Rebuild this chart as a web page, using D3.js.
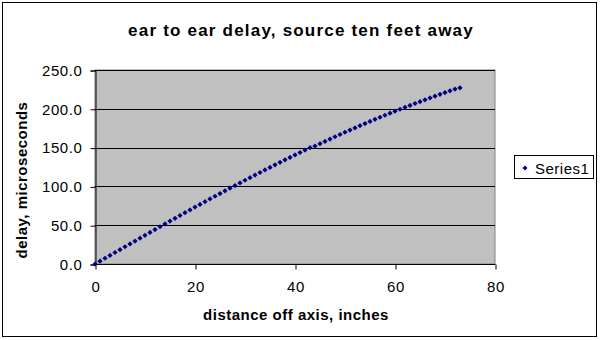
<!DOCTYPE html>
<html><head><meta charset="utf-8">
<script src="https://cdn.jsdelivr.net/npm/d3@7"></script>
<style>body{margin:0;background:#fff}svg{display:block}text{font-family:Arial,"Liberation Sans",sans-serif}</style>
</head><body>
<svg id="c" width="600" height="340"></svg>
<script>
const title = "ear to ear delay, source ten feet away";
const xTitle = "distance off axis, inches";
const yTitle = "delay, microseconds";
const seriesName = "Series1";
const distance = [0,1,2,3,4,5,6,7,8,9,10,11,12,13,14,15,16,17,18,19,20,21,22,23,24,25,26,27,28,29,30,31,32,33,34,35,36,37,38,39,40,41,42,43,44,45,46,47,48,49,50,51,52,53,54,55,56,57,58,59,60,61,62,63,64,65,66,67,68,69,70,71,72,73];
const delay = [0,3.7,7.4,11.1,14.8,18.5,22.2,25.9,29.6,33.3,37.0,40.7,44.4,48.0,51.7,55.3,58.9,62.5,66.1,69.7,73.3,76.8,80.3,83.8,87.3,90.8,94.3,97.7,101.1,104.5,107.9,111.3,114.6,117.9,121.2,124.5,127.8,131.0,134.2,137.4,140.6,143.7,146.8,149.9,152.0,155.0,158.0,161.0,164.0,166.9,169.8,172.6,175.4,178.2,181.0,183.7,186.4,189.1,191.7,194.3,196.9,199.4,201.9,204.4,206.8,209.2,211.6,214.0,216.3,218.6,220.9,223.2,225.4,227.0];
const xTicks = [0,20,40,60,80];
const yTicks = [0,50,100,150,200,250];

const svg = d3.select("#c");
const L=95, R=495, T=70, B=264;
const x = d3.scaleLinear().domain([0,80]).range([L,R]);
const y = d3.scaleLinear().domain([0,250]).range([B,T]);

svg.append("rect").attr("x",2.5).attr("y",2.5).attr("width",594).attr("height",334)
  .attr("fill","#fff").attr("stroke","#000");

svg.append("text").attr("x",301).attr("y",36).attr("text-anchor","middle")
  .attr("font-size",17).attr("letter-spacing",1.2).attr("font-weight","bold").text(title);

svg.append("rect").attr("x",L).attr("y",T).attr("width",R-L).attr("height",B-T)
  .attr("fill","#c0c0c0").attr("stroke","#808080");

svg.append("g").selectAll("line").data(yTicks.filter(d=>d>0)).join("line")
  .attr("x1",L).attr("x2",R).attr("y1",d=>Math.round(y(d))+0.5).attr("y2",d=>Math.round(y(d))+0.5)
  .attr("stroke","#000");

const yAxis = svg.append("g").attr("transform",`translate(${L+0.5},0.5)`)
  .call(d3.axisLeft(y).tickValues(yTicks).tickFormat(d3.format(".1f")).tickSize(5).tickPadding(8));
const xAxis = svg.append("g").attr("transform",`translate(0.5,${B+0.5})`)
  .call(d3.axisBottom(x).tickValues(xTicks).tickFormat(d3.format("d")).tickSize(5).tickPadding(12));
[yAxis,xAxis].forEach(a=>{
  a.select(".domain").attr("stroke","#000");
  a.selectAll(".tick line").attr("stroke","#000");
  a.selectAll("text").attr("font-size",15).attr("fill","#000").attr("font-family","Arial, 'Liberation Sans', sans-serif").attr("letter-spacing",0.6);
});
xAxis.select(".domain").attr("d",`M${L},0H${R}`);

const diamond = "M0,-2.6L2.6,0L0,2.6L-2.6,0Z";
svg.append("g").selectAll("path").data(distance).join("path")
  .attr("transform",(d,i)=>`translate(${x(d)},${y(delay[i])})`)
  .attr("d",diamond).attr("fill","#000080");

svg.append("text").attr("x",296).attr("y",320).attr("text-anchor","middle")
  .attr("font-size",15).attr("letter-spacing",0.5).attr("font-weight","bold").text(xTitle);
svg.append("text").attr("transform","translate(27,180) rotate(-90)").attr("text-anchor","middle")
  .attr("font-size",15).attr("letter-spacing",0.5).attr("font-weight","bold").text(yTitle);

const lg = svg.append("g");
lg.append("rect").attr("x",514.5).attr("y",155.5).attr("width",79).attr("height",23).attr("fill","#fff").attr("stroke","#000");
lg.append("path").attr("transform","translate(525,168)").attr("d","M0,-2.5L2.5,0L0,2.5L-2.5,0Z").attr("fill","#000080");
lg.append("text").attr("x",535).attr("y",174).attr("font-size",15).attr("letter-spacing",0.5).text(seriesName);
</script>
</body></html>
